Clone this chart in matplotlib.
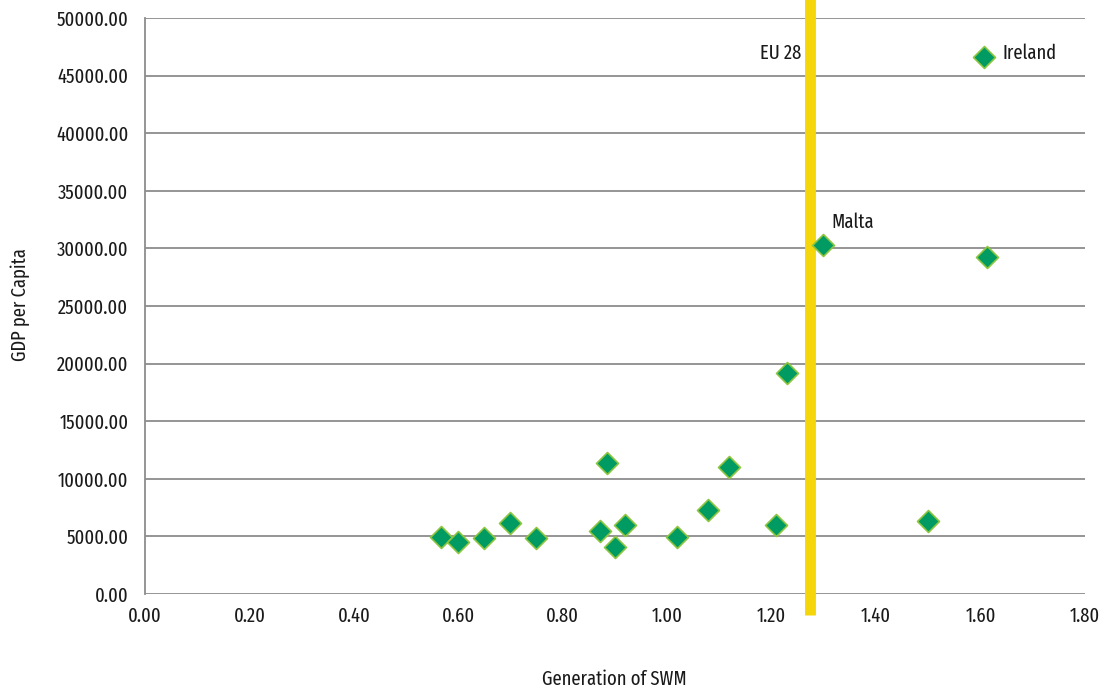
import numpy as np
import matplotlib
matplotlib.use("Agg")
import matplotlib.pyplot as plt

# GDP per capita against generation of SWM, by country
swm = [0.567, 0.599, 0.649, 0.699, 0.749, 0.871, 0.885, 0.900, 0.919,
       1.019, 1.078, 1.118, 1.208, 1.229, 1.298, 1.499, 1.607, 1.612]
gdp = [4950, 4500, 4850, 6150, 4850, 5450, 11350, 4100, 5950,
       4950, 7300, 11000, 5950, 19150, 30300, 6300, 46650, 29250]

eu28_swm = 1.273
labels = {"Ireland": (1.607, 46650), "Malta": (1.298, 30300)}

xticks = np.arange(0, 1.81, 0.2)
yticks = np.arange(0, 50001, 5000)

plt.rcParams["font.family"] = ["Fira Sans Extra Condensed", "DejaVu Sans"]
plt.rcParams["font.weight"] = "normal"
plt.rcParams["font.size"] = 14.5
txt_col = "#1a1a1a"

fig = plt.figure(figsize=(11.05, 6.91), dpi=100)
ax = fig.add_axes([145 / 1105, 1 - 594 / 691, 940 / 1105, 576 / 691])

ax.set_xlim(0, 1.8)
ax.set_ylim(0, 50000)
ax.set_xticks(xticks)
ax.set_yticks(yticks)
ax.set_xticklabels([f"{v:.2f}" for v in xticks])
ax.set_yticklabels([f"{v:.2f}" for v in yticks])
ax.tick_params(length=0, colors=txt_col, labelsize=14.5)
ax.tick_params(axis="y", pad=12)
ax.tick_params(axis="x", pad=9)

ax.grid(axis="y", color="#8c8c8c", linewidth=1.3)
ax.set_axisbelow(True)
for s in ["top", "right", "bottom"]:
    ax.spines[s].set_visible(False)
ax.spines["left"].set_color("#8c8c8c")
ax.spines["left"].set_linewidth(1.3)

# EU 28 reference line, runs slightly past the plot area
ax.plot([eu28_swm, eu28_swm], [-1800, 52000], color="#f5d60a", linewidth=7.8,
        solid_capstyle="butt", clip_on=False, zorder=2)
ax.text(eu28_swm - 0.016, 46900, "EU 28", ha="right", va="center", color=txt_col)

ax.scatter(swm, gdp, marker="D", s=125, facecolor="#009a63", edgecolor="#8cc63f",
           linewidth=1.2, zorder=3)

ax.text(labels["Ireland"][0] + 0.035, labels["Ireland"][1] + 300, "Ireland", ha="left",
        va="center", color=txt_col)
ax.text(labels["Malta"][0] + 0.017, labels["Malta"][1] + 2000, "Malta", ha="left",
        va="center", color=txt_col)

fig.text(614 / 1105, 1 - 679 / 691, "Generation of SWM", ha="center", va="center",
         color=txt_col)
fig.text(20 / 1105, 1 - 305 / 691, "GDP per Capita", ha="center", va="center",
         rotation=90, color=txt_col)

fig.savefig("out.png", dpi=100)
